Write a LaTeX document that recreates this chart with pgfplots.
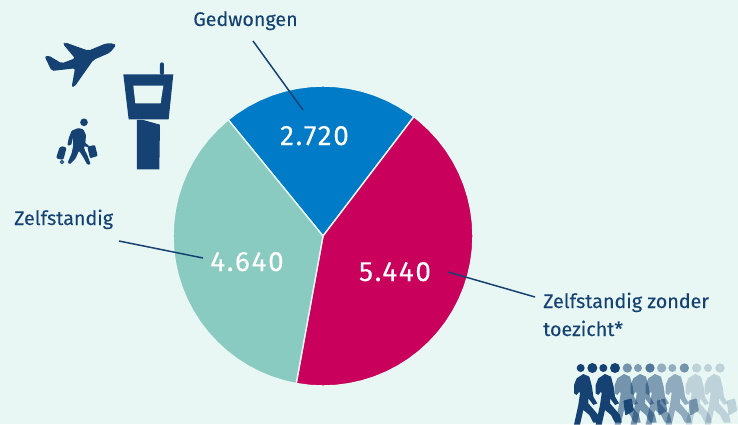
\documentclass[border=0pt]{standalone}
\usepackage{pgfplots}
\pgfplotsset{compat=1.18}
\usepackage{fontspec}
\setmainfont{Fira Sans}
\newfontfamily\lab[FakeBold=0.15]{Fira Sans}
\newfontfamily\num[LetterSpace=6,FakeBold=0.1]{Fira Sans}
\definecolor{bg}{HTML}{E8F7F3}
\definecolor{navy}{HTML}{154273}
\definecolor{pblue}{HTML}{007BC7}
\definecolor{pred}{HTML}{CA005D}
\definecolor{pteal}{HTML}{8ACBC1}
\newcommand{\walker}[2]{%
\begin{scope}[xshift=#1*0.3333pt,opacity=#2,transparency group]
\fill[navy] (70,72)--(88,80)--(96,110)--(100,140)--(112,160)--(100,165)--(85,145)--(85,160)--(115,195)--(120,218)--(100,218)--(88,195)--(70,180)--(60,224)--(42,224)--(55,165)--(60,130)--(58,125)--(50,135)--(42,130)--(42,105)--(50,85)--cycle;
\end{scope}}
\newcommand{\bag}[2]{%
\begin{scope}[xshift=#1*0.3333pt,opacity=#2]
\fill[navy,rounded corners=1pt] (190,152)--(215,145)--(222,182)--(196,197)--cycle;
\end{scope}}
\begin{document}
\begin{tikzpicture}[x=1pt,y=1pt]
\useasboundingbox (0,0) rectangle (738,424);
\fill[bg] (0,0) rectangle (738,424);
\begin{axis}[at={(0,0)},anchor=south west,scale only axis,width=738pt,height=424pt,
  xmin=-323,xmax=415,ymin=-188,ymax=236,hide axis,clip=false]
\addplot[fill=pblue,draw=bg,line width=1.4pt,data cs=polar] coordinates {
 (0,0)(129.2,150)(125,150)(120,150)(115,150)(110,150)(105,150)(100,150)(95,150)(90,150)(85,150)(80,150)(75,150)(70,150)(65,150)(60,150)(55,150)(52.7,150)(0,0)} ;
\addplot[fill=pred,draw=bg,line width=1.4pt,data cs=polar] coordinates {
 (0,0)(52.7,150)(50,150)(45,150)(40,150)(35,150)(30,150)(25,150)(20,150)(15,150)(10,150)(5,150)(0,150)(-5,150)(-10,150)(-15,150)(-20,150)(-25,150)(-30,150)(-35,150)(-40,150)(-45,150)(-50,150)(-55,150)(-60,150)(-65,150)(-70,150)(-75,150)(-80,150)(-85,150)(-90,150)(-95,150)(-100.3,150)(0,0)};
\addplot[fill=pteal,draw=bg,line width=1.4pt,data cs=polar] coordinates {
 (0,0)(-100.3,150)(-105,150)(-110,150)(-115,150)(-120,150)(-125,150)(-130,150)(-135,150)(-140,150)(-145,150)(-150,150)(-155,150)(-160,150)(-165,150)(-170,150)(-175,150)(-180,150)(-185,150)(-190,150)(-195,150)(-200,150)(-205,150)(-210,150)(-215,150)(-220,150)(-225,150)(-230.8,150)(0,0)};
\end{axis}
% pixel-space overlay
\begin{scope}[shift={(0,424)},y=-1pt]
\draw[navy,line width=1.5pt] (253,41)--(303,110);
\draw[navy,line width=1.5pt] (119,241)--(203,258);
\draw[navy,line width=1.5pt] (448,272)--(535,297);
\node[navy,font=\lab\fontsize{19.7}{22}\selectfont,anchor=base] at (245.5,26) {Gedwongen};
\node[navy,font=\lab\fontsize{19.7}{22}\selectfont,anchor=base west,inner sep=0pt] at (14,225) {Zelfstandig};
\node[navy,font=\lab\fontsize{19.7}{22}\selectfont,anchor=base west,inner sep=0pt] at (543,308) {Zelfstandig zonder};
\node[navy,font=\lab\fontsize{19.7}{22}\selectfont,anchor=base west,inner sep=0pt] at (543,336) {toezicht*};
\node[white,font=\num\fontsize{28}{30}\selectfont,anchor=base] at (314.5,145) {2.720};
\node[white,font=\num\fontsize{28}{30}\selectfont,anchor=base] at (247,271) {4.640};
\node[white,font=\num\fontsize{28}{30}\selectfont,anchor=base] at (395,281) {5.440};
\end{scope}
% icons, in zoomed-crop coordinates
\begin{scope}[shift={(30,394)},x=0.3333pt,y=-0.3333pt]
\fill[navy,rounded corners=2pt] (258,46)--(250,40)--(228,40)--(175,62)--(105,37)--(99,42)--(135,85)--(95,100)--(55,76)--(44,80)--(65,123)--(135,115)--(125,171)--(133,171)--(190,90)--(240,68)--cycle;
\fill[navy,rounded corners=2pt] (390,135)--(390,97)--(402,97)--(402,135)--cycle;
\fill[navy] (280,133)--(430,133)--(416,268)--(296,268)--cycle;
\fill[bg] (310,167)--(400,167)--(392,220)--(316,220)--cycle;
\fill[navy] (321,270)--(340,270)--(390,284)--(388,418)--(321,418)--cycle;
\fill[navy] (162,277) circle (11.5);
\fill[navy,rounded corners=1pt] (116,325)--(125,302)--(145,294)--(160,298)--(168,315)--(166,340)--(178,347)--(175,352)--(162,348)--(164,360)--(172,375)--(182,403)--(172,404)--(160,382)--(147,362)--(137,385)--(120,403)--(113,398)--(125,370)--(130,345)--(128,322)--(124,345)--(112,347)--cycle;
\fill[navy,rounded corners=2pt] (90,348)--(110,352)--(100,390)--(78,385)--cycle;
\draw[navy,line width=1pt] (96,396) circle (5);
\fill[navy,rounded corners=1pt] (172,350)--(195,345)--(203,378)--(180,385)--cycle;
\end{scope}
\begin{scope}[shift={(560,74)},x=0.3333pt,y=-0.3333pt]
\foreach \xx/\r/\o in {62/12/1,97/15/1,130/12/1,165/15/1,202/14/.55,234/12/.5,270/14/.7,305/14/.4,337/12/.4,373/14/.55,410/14/.2,444/12/.2,480/14/.2}
  {\fill[navy,opacity=\o] (\xx,54) circle (\r);}
\walker{0}{1}\walker{65}{1}
\walker{122}{.55}\bag{0}{.95}
\walker{170}{.55}\walker{215}{.5}\bag{100}{.6}
\walker{275}{.42}\bag{195}{.45}\walker{335}{.2}\walker{392}{.2}\bag{310}{.2}
\end{scope}
\end{tikzpicture}
\end{document}
